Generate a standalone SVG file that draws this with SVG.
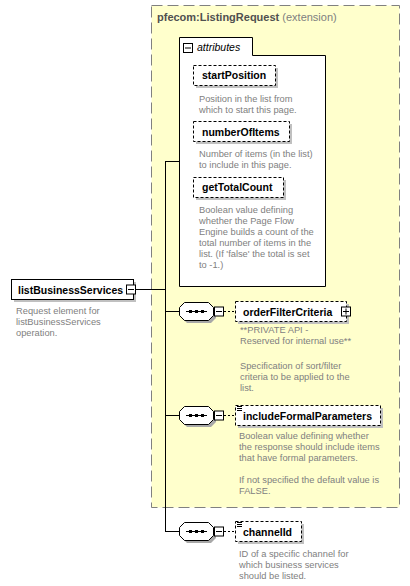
<svg xmlns="http://www.w3.org/2000/svg" width="410" height="586" viewBox="0 0 410 586">
<style>
.name{font-family:"Liberation Sans",Arial,sans-serif;font-weight:bold;font-size:10.5px;fill:#000}
.desc{font-family:"Liberation Sans",Arial,sans-serif;font-size:9.3px;fill:#808080}
.box{fill:#fff;stroke:#000;stroke-width:1;stroke-dasharray:3,2}
.shadow{fill:#c0c0c0}
.line{stroke:#000;stroke-width:1;fill:none}
.dash{stroke:#000;stroke-width:1;stroke-dasharray:2,2;fill:none}
.icon{fill:#fff;stroke:#000;stroke-width:1}
.seq{fill:#fff;stroke:#000;stroke-width:1}
.seqsh{fill:#a8a8a8}
</style>
<defs>
<g id="seqShape">
<path class="seqsh" d="M187,305 H211 L216,310 V318 L211,323 H187 L182,318 V310 Z"/>
<path class="seq" d="M184.5,302.5 H208.5 L213.5,307.5 V315.5 L208.5,320.5 H184.5 L179.5,315.5 V307.5 Z"/>
<line x1="186" y1="311.5" x2="207" y2="311.5" stroke="#000" stroke-width="1"/>
<rect x="189" y="310" width="3" height="3" fill="#000"/>
<rect x="195" y="310" width="3" height="3" fill="#000"/>
<rect x="201" y="310" width="3" height="3" fill="#000"/>
<rect class="icon" x="214.5" y="307" width="9" height="9"/>
<line x1="216" y1="311.5" x2="222" y2="311.5" stroke="#000" stroke-width="1"/>
<line class="dash" x1="224" y1="311.5" x2="235" y2="311.5"/>
</g>
<g id="eqIcon">
<line x1="237" y1="406.5" x2="242" y2="406.5" stroke="#000" stroke-width="1"/>
<line x1="237" y1="408.5" x2="242" y2="408.5" stroke="#000" stroke-width="1"/>
<line x1="237" y1="410.5" x2="242" y2="410.5" stroke="#000" stroke-width="1"/>
</g>
</defs>

<g id="extension">
<rect x="151.5" y="5.5" width="248" height="502" fill="#ffffcc" stroke="#808080" stroke-width="1" stroke-dasharray="11,5"/>
<text x="157" y="21" font-family="Liberation Sans, Arial, sans-serif" font-size="11px"><tspan font-weight="bold" fill="#505050">pfecom:ListingRequest</tspan><tspan fill="#808080"> (extension)</tspan></text>
</g>

<g id="attributes">
<path d="M179.5,37.5 H252.5 V55.5 H325.5 V286.5 H179.5 Z" fill="#fff" stroke="#000" stroke-width="1"/>
<rect class="icon" x="183.5" y="43.5" width="9" height="9"/>
<line x1="185" y1="48" x2="191" y2="48" stroke="#000" stroke-width="1"/>
<text x="197" y="51" font-family="Liberation Sans, Arial, sans-serif" font-size="10.5px" font-style="italic" fill="#000">attributes</text>
</g>

<g id="startPosition">
<rect class="shadow" x="196" y="68" width="82" height="20"/>
<rect class="box" x="193.5" y="65.5" width="82" height="20"/>
<text class="name" x="202" y="79">startPosition</text>
<text class="desc" x="199" y="102">Position in the list from</text>
<text class="desc" x="199" y="113">which to start this page.</text>
</g>

<g id="numberOfItems">
<rect class="shadow" x="196" y="124" width="96" height="20"/>
<rect class="box" x="193.5" y="121.5" width="96" height="20"/>
<text class="name" x="202" y="135.5">numberOfItems</text>
<text class="desc" x="199" y="157">Number of items (in the list)</text>
<text class="desc" x="199" y="168">to include in this page.</text>
</g>

<g id="getTotalCount">
<rect class="shadow" x="196" y="180" width="90" height="20"/>
<rect class="box" x="193.5" y="177.5" width="90" height="20"/>
<text class="name" x="202" y="191">getTotalCount</text>
<text class="desc" x="199" y="212.5">Boolean value defining</text>
<text class="desc" x="199" y="223.5">whether the Page Flow</text>
<text class="desc" x="199" y="234.5">Engine builds a count of the</text>
<text class="desc" x="199" y="245.5">total number of items in the</text>
<text class="desc" x="199" y="256.5">list. (If 'false' the total is set</text>
<text class="desc" x="199" y="267.5">to -1.)</text>
</g>

<g id="connectors">
<line class="line" x1="165.5" y1="161" x2="165.5" y2="531.5"/>
<line class="line" x1="165" y1="161.5" x2="179" y2="161.5"/>
<line class="line" x1="135" y1="289.5" x2="165" y2="289.5"/>
<line class="line" x1="165" y1="311.5" x2="179" y2="311.5"/>
<line class="line" x1="165" y1="415.5" x2="179" y2="415.5"/>
<line class="line" x1="165" y1="531.5" x2="179" y2="531.5"/>
<use href="#seqShape"/>
<use href="#seqShape" transform="translate(0,104)"/>
<use href="#seqShape" transform="translate(0,220)"/>
</g>

<g id="listBusinessServices">
<rect class="shadow" x="14" y="282" width="122" height="20"/>
<rect x="11.5" y="279.5" width="122" height="20" fill="#fff" stroke="#000" stroke-width="1"/>
<text class="name" x="18" y="293.5">listBusinessServices</text>
<rect class="icon" x="126.5" y="285" width="9" height="9"/>
<line x1="128" y1="289.5" x2="134" y2="289.5" stroke="#000" stroke-width="1"/>
<text class="desc" x="16" y="313.5">Request element for</text>
<text class="desc" x="16" y="324.5">listBusinessServices</text>
<text class="desc" x="16" y="335.5">operation.</text>
</g>

<g id="orderFilterCriteria">
<rect class="shadow" x="238" y="304" width="111" height="20"/>
<rect class="box" x="235.5" y="301.5" width="111" height="20"/>
<text class="name" x="243" y="315.5">orderFilterCriteria</text>
<rect class="icon" x="341.5" y="307" width="9" height="9"/>
<line x1="343" y1="311.5" x2="349" y2="311.5" stroke="#000" stroke-width="1"/>
<line x1="346" y1="308.5" x2="346" y2="314.5" stroke="#000" stroke-width="1"/>
<text class="desc" x="240" y="333">**PRIVATE API -</text>
<text class="desc" x="240" y="344">Reserved for internal use**</text>
<text class="desc" x="240" y="369">Specification of sort/filter</text>
<text class="desc" x="240" y="380">criteria to be applied to the</text>
<text class="desc" x="240" y="391">list.</text>
</g>

<g id="includeFormalParameters">
<rect class="shadow" x="238" y="408" width="145" height="20"/>
<rect class="box" x="235.5" y="405.5" width="145" height="20"/>
<use href="#eqIcon"/>
<text class="name" x="243" y="419.5">includeFormalParameters</text>
<text class="desc" x="239" y="439">Boolean value defining whether</text>
<text class="desc" x="239" y="450">the response should include items</text>
<text class="desc" x="239" y="461">that have formal parameters.</text>
<text class="desc" x="239" y="483">If not specified the default value is</text>
<text class="desc" x="239" y="494">FALSE.</text>
</g>

<g id="channelId">
<rect class="shadow" x="238" y="524" width="66" height="20"/>
<rect class="box" x="235.5" y="521.5" width="66" height="20"/>
<use href="#eqIcon" transform="translate(0,116)"/>
<text class="name" x="243" y="535.5">channelId</text>
<text class="desc" x="239" y="557">ID of a specific channel for</text>
<text class="desc" x="239" y="568">which business services</text>
<text class="desc" x="239" y="579">should be listed.</text>
</g>
</svg>
